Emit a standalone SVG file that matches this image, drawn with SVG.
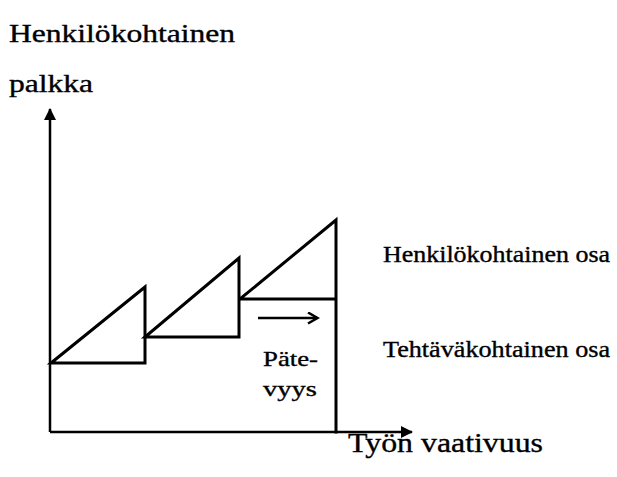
<svg xmlns="http://www.w3.org/2000/svg" width="617" height="477" viewBox="0 0 617 477">
<style>
.t{fill:#000;stroke:#000;stroke-width:0.35}
.ln{stroke:#000;stroke-width:3;fill:none;stroke-linejoin:miter;stroke-linecap:square}
.ax{stroke:#000;stroke-width:2.5;fill:none}
</style>
<defs>
<marker id="ah" markerWidth="14" markerHeight="14" refX="11" refY="6" orient="auto" markerUnits="userSpaceOnUse">
<path d="M0,0 L12,6 L0,12 Z" fill="#000"/>
</marker>
<marker id="sh" markerWidth="14" markerHeight="14" refX="10" refY="6" orient="auto" markerUnits="userSpaceOnUse">
<path d="M1,0.5 L10.5,6 L1,11.5" fill="none" stroke="#000" stroke-width="2.5"/>
</marker>
</defs>
<g id="labels" font-family="'Liberation Serif', 'Times New Roman', serif">
<text class="t" transform="translate(9,42) scale(1.26,1)" font-size="25" textLength="179.4" lengthAdjust="spacingAndGlyphs">Henkilökohtainen</text>
<text class="t" transform="translate(9,92) scale(1.26,1)" font-size="25" textLength="66.7" lengthAdjust="spacingAndGlyphs">palkka</text>
<text class="t" transform="translate(383,262) scale(1.15,1)" font-size="22.5" textLength="197.4" lengthAdjust="spacingAndGlyphs">Henkilökohtainen osa</text>
<text class="t" transform="translate(383,357) scale(1.15,1)" font-size="22.5" textLength="197.4" lengthAdjust="spacingAndGlyphs">Tehtäväkohtainen osa</text>
<text class="t" transform="translate(348,452) scale(1.2,1)" font-size="27.5" textLength="162.5" lengthAdjust="spacingAndGlyphs">Työn vaativuus</text>
<text class="t" transform="translate(263,366) scale(1.22,1)" font-size="22" textLength="45.1" lengthAdjust="spacingAndGlyphs">Päte-</text>
<text class="t" transform="translate(263,396) scale(1.3,1)" font-size="22" textLength="41.5" lengthAdjust="spacingAndGlyphs">vyys</text>
</g>
<g id="axes">
<line class="ax" x1="50" y1="432" x2="50" y2="109" marker-end="url(#ah)"/>
<line class="ax" x1="50" y1="432" x2="412" y2="432" marker-end="url(#ah)"/>
</g>
<g id="steps">
<path class="ln" d="M51,363 L145,287 L145,363 Z"/>
<path class="ln" d="M145,337 L239,258 L239,337 Z"/>
<path class="ln" d="M240,299 L336,220 L336,432 M240,299 L336,299"/>
</g>
<g id="connectors">
<line x1="258" y1="318" x2="317" y2="318" stroke="#000" stroke-width="2.5" marker-end="url(#sh)"/>
</g>
</svg>
